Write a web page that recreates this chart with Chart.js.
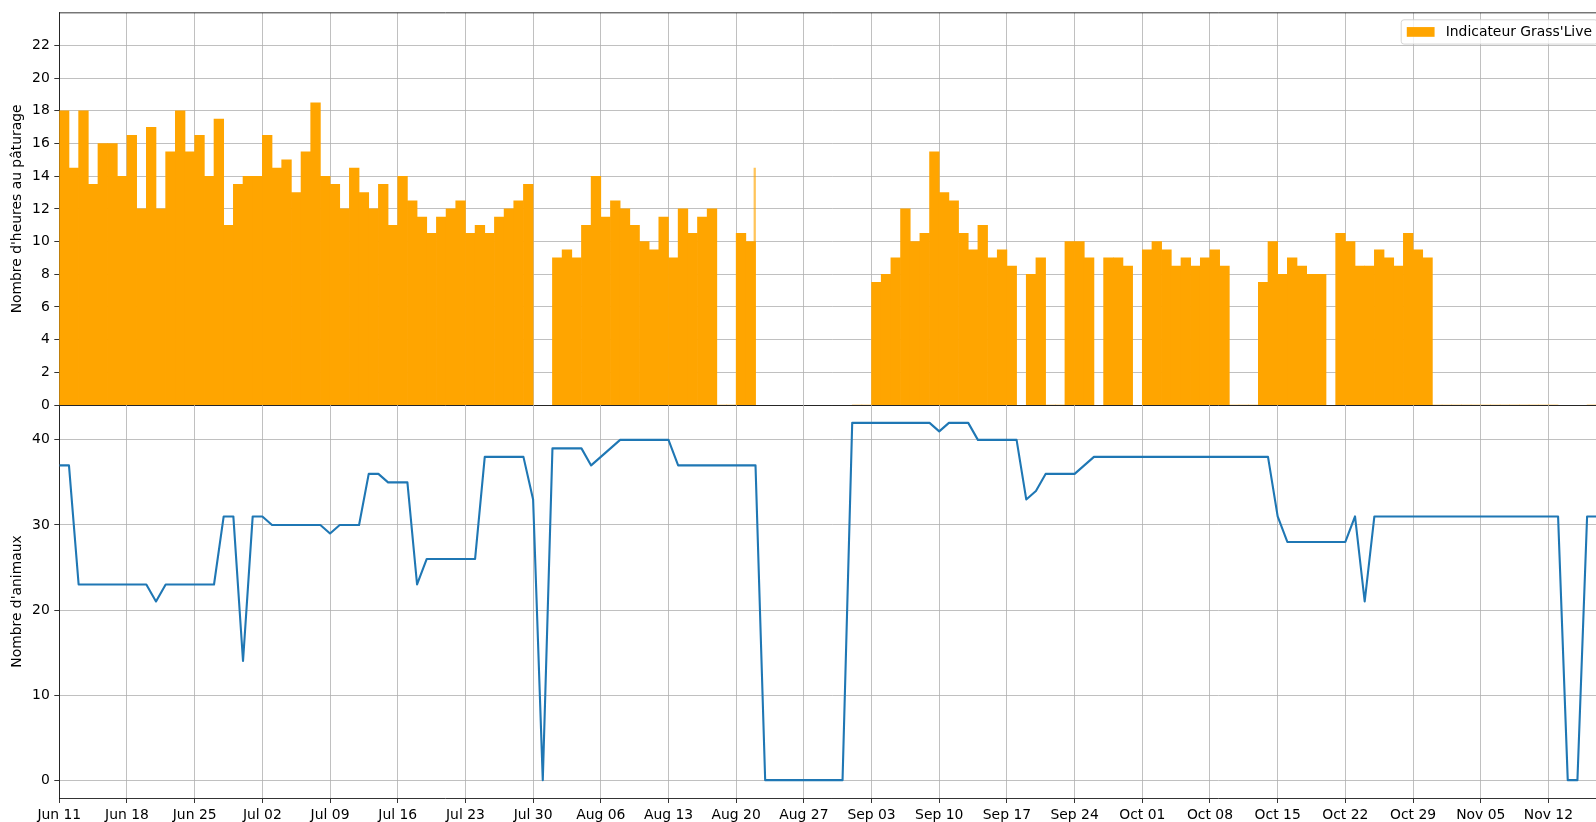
<!DOCTYPE html>
<html><head><meta charset="utf-8">
<script src="https://cdn.jsdelivr.net/npm/chart.js@4.4.1/dist/chart.umd.min.js"></script>
<style>
html,body{margin:0;padding:0;background:#fff;}
body{width:1596px;height:822px;overflow:hidden;position:relative;}
#wa{position:absolute;left:0;top:0;}
#wb{position:absolute;left:0;top:385px;}
canvas{display:block;}
</style></head><body>
<div id="wa"><canvas id="ca" width="1640" height="420" style="width:1640px;height:420px"></canvas></div>
<div id="wb"><canvas id="cb" width="1640" height="437" style="width:1640px;height:437px"></canvas></div>
<script>
// ---------------- data ----------------
const hoursLabel = "Indicateur Grass'Live";
const hoursAxisTitle = "Nombre d'heures au pâturage";
const animalsAxisTitle = "Nombre d'animaux";

// daily hours at pasture, day 0 = Jun 11 (null = no bar)
const hours = [
  18, 14.5, 18, 13.5, 16, 16, 14, 16.5, 12, 17, 12, 15.5, 18, 15.5, 16.5, 14, 17.5, 11, 13.5, 14,
  14, 16.5, 14.5, 15, 13, 15.5, 18.5, 14, 13.5, 12, 14.5, 13, 12, 13.5, 11, 14, 12.5, 11.5, 10.5, 11.5,
  12, 12.5, 10.5, 11, 10.5, 11.5, 12, 12.5, 13.5, null, null, 9, 9.5, 9, 11, 14, 11.5, 12.5, 12, 11,
  10, 9.5, 11.5, 9, 12, 10.5, 11.5, 12, 0, 0, 10.5, 10, null, null, null, null, null, null, null, null,
  null, null, 0, 0, 7.5, 8, 9, 12, 10, 10.5, 15.5, 13, 12.5, 10.5, 9.5, 11, 9, 9.5, 8.5, null,
  8, 9, 0, 0, 10, 10, 9, null, 9, 9, 8.5, null, 9.5, 10, 9.5, 8.5, 9, 8.5, 9, 9.5,
  8.5, 0, 0, 0, 7.5, 10, 8, 9, 8.5, 8, 8, null, 10.5, 10, 8.5, 8.5, 9.5, 9, 8.5, 10.5,
  9.5, 9, 0, 0, 0, 0, 0, 0, 0, 0, 0, 0, 0, 0, 0, null, null, null, 0, 0
];
// isolated thin bar (fractional day position)
const spikeDays = [71.92];
const spikeHours = [14.5];

// daily number of animals, day 0 = Jun 11
const animals = [
  37, 37, 23, 23, 23, 23, 23, 23, 23, 23, 21, 23, 23, 23, 23, 23, 23, 31, 31, 14,
  31, 31, 30, 30, 30, 30, 30, 30, 29, 30, 30, 30, 36, 36, 35, 35, 35, 23, 26, 26,
  26, 26, 26, 26, 38, 38, 38, 38, 38, 33, 0, 39, 39, 39, 39, 37, 38, 39, 40, 40,
  40, 40, 40, 40, 37, 37, 37, 37, 37, 37, 37, 37, 37, 0, 0, 0, 0, 0, 0, 0,
  0, 0, 42, 42, 42, 42, 42, 42, 42, 42, 42, 41, 42, 42, 42, 40, 40, 40, 40, 40,
  33, 34, 36, 36, 36, 36, 37, 38, 38, 38, 38, 38, 38, 38, 38, 38, 38, 38, 38, 38,
  38, 38, 38, 38, 38, 38, 31, 28, 28, 28, 28, 28, 28, 28, 31, 21, 31, 31, 31, 31,
  31, 31, 31, 31, 31, 31, 31, 31, 31, 31, 31, 31, 31, 31, 31, 31, 0, 0, 31, 31, 31
];

const xTickDays = [0, 7, 14, 21, 28, 35, 42, 49, 56, 63, 70, 77, 84, 91, 98, 105, 112, 119, 126, 133, 140, 147, 154];
const xTickLabels = ["Jun 11","Jun 18","Jun 25","Jul 02","Jul 09","Jul 16","Jul 23","Jul 30","Aug 06","Aug 13",
  "Aug 20","Aug 27","Sep 03","Sep 10","Sep 17","Sep 24","Oct 01","Oct 08","Oct 15","Oct 22","Oct 29","Nov 05","Nov 12"];
const hoursTicks = [0, 2, 4, 6, 8, 10, 12, 14, 16, 18, 20, 22];
const animalsTicks = [0, 10, 20, 30, 40];

// ---------------- styling ----------------
const FS = 13.9;
const FONT = {family: "'DejaVu Sans', sans-serif", size: FS};
const GRID = '#b0b0b0';
const XMAX = 159.8;
const setTicks = (vals) => (scale) => { scale.ticks = vals.map(v => ({value: v})); };
const borderOpt = {display: true, color: '#000', width: 0.8};

const frame = {
  id: 'frame',
  afterDraw(chart, args, opts) {
    if (!opts.top) return;
    const {ctx, chartArea: a} = chart;
    ctx.save();
    ctx.strokeStyle = '#000'; ctx.lineWidth = 0.8;
    ctx.beginPath(); ctx.moveTo(a.left, a.top); ctx.lineTo(a.right, a.top); ctx.stroke();
    ctx.restore();
  }
};

const boxLegend = {
  id: 'boxLegend',
  afterDraw(chart) {
    const {ctx, chartArea: a} = chart;
    const ds = chart.data.datasets[0];
    ctx.save();
    ctx.font = FS + "px 'DejaVu Sans'";
    const tw = ctx.measureText(ds.label).width;
    const pad = 0.4 * FS, hl = 2 * FS, hp = 0.8 * FS, ax = 0.5 * FS;
    const w = pad + hl + hp + tw + pad, h = 24.3;
    const right = a.right - ax, top = a.top + ax, left = right - w;
    ctx.beginPath();
    ctx.roundRect(left, top, w, h, 0.2 * FS);
    ctx.fillStyle = 'rgba(255,255,255,0.8)'; ctx.fill();
    ctx.strokeStyle = 'rgba(204,204,204,0.8)'; ctx.lineWidth = 1; ctx.stroke();
    const cy = top + h / 2;
    ctx.fillStyle = ds.backgroundColor;
    ctx.fillRect(left + pad, cy - 0.35 * FS, hl, 0.7 * FS);
    ctx.fillStyle = '#000'; ctx.textBaseline = 'middle'; ctx.textAlign = 'left';
    ctx.fillText(ds.label, left + pad + hl + hp, cy + 0.5);
    ctx.restore();
  }
};

// ---------------- top chart: bars ----------------
const chartA = new Chart(document.getElementById('ca'), {
  type: 'bar',
  data: {
    datasets: [
      {label: hoursLabel, data: hours.map((v, i) => ({x: i + 0.5, y: v})),
       backgroundColor: 'orange', borderWidth: 0, grouped: false, barPercentage: 1, categoryPercentage: 1},
      {label: 'spike', data: spikeDays.map((d, i) => ({x: d, y: spikeHours[i]})),
       backgroundColor: 'rgba(255,165,0,0.65)', borderWidth: 0, grouped: false, barThickness: 1.6}
    ]
  },
  options: {
    responsive: false, devicePixelRatio: 1, animation: false,
    layout: {padding: {top: 12.2, right: 35.5, bottom: 0, left: 0}},
    plugins: {legend: {display: false}, tooltip: {enabled: false}, frame: {top: true}},
    scales: {
      x: {type: 'linear', min: 0, max: XMAX, offset: false, z: 1,
          grid: {color: GRID, lineWidth: 0.8, drawTicks: false, offset: false},
          border: borderOpt,
          ticks: {display: false},
          afterBuildTicks: setTicks(xTickDays),
          afterFit: s => { s.height = 15; }},
      y: {type: 'linear', min: 0, max: 24, z: 1,
          grid: {color: GRID, lineWidth: 0.8, drawTicks: true, tickLength: 5, tickColor: '#000', tickWidth: 0.8},
          border: borderOpt,
          ticks: {font: FONT, color: '#000', padding: 4.5},
          title: {display: true, text: hoursAxisTitle, font: FONT, color: '#000', padding: {top: 9.2, bottom: 0}},
          afterBuildTicks: setTicks(hoursTicks),
          afterFit: s => { s.width = 59.3; }}
    }
  },
  plugins: [frame, boxLegend]
});
const sxA = chartA.scales.x;
chartA.data.datasets[0].barThickness = sxA.getPixelForValue(1) - sxA.getPixelForValue(0);
chartA.update('none');

// ---------------- bottom chart: line ----------------
new Chart(document.getElementById('cb'), {
  type: 'line',
  data: {
    datasets: [{label: animalsAxisTitle, data: animals.map((v, i) => ({x: i, y: v})),
      borderColor: '#1f77b4', borderWidth: 2.1, pointRadius: 0, tension: 0, fill: false,
      borderJoinStyle: 'round'}]
  },
  options: {
    responsive: false, devicePixelRatio: 1, animation: false,
    layout: {padding: {top: 20, right: 35.5, bottom: 0, left: 0}},
    plugins: {legend: {display: false}, tooltip: {enabled: false}},
    scales: {
      x: {type: 'linear', min: 0, max: XMAX,
          grid: {color: GRID, lineWidth: 0.8, drawTicks: true, tickLength: 5, tickColor: '#000', tickWidth: 0.8},
          border: borderOpt,
          ticks: {font: FONT, color: '#000', padding: 4, autoSkip: false, maxRotation: 0, minRotation: 0,
                  callback: (v, i) => xTickLabels[i]},
          afterBuildTicks: setTicks(xTickDays),
          afterFit: s => { s.height = 24; }},
      y: {type: 'linear', min: -2.1, max: 44.1,
          grid: {color: GRID, lineWidth: 0.8, drawTicks: true, tickLength: 5, tickColor: '#000', tickWidth: 0.8},
          border: borderOpt,
          ticks: {font: FONT, color: '#000', padding: 4.5},
          title: {display: true, text: animalsAxisTitle, font: FONT, color: '#000', padding: {top: 9.2, bottom: 0}},
          afterBuildTicks: setTicks(animalsTicks),
          afterFit: s => { s.width = 59.3; }}
    }
  }
});
</script>
</body></html>
